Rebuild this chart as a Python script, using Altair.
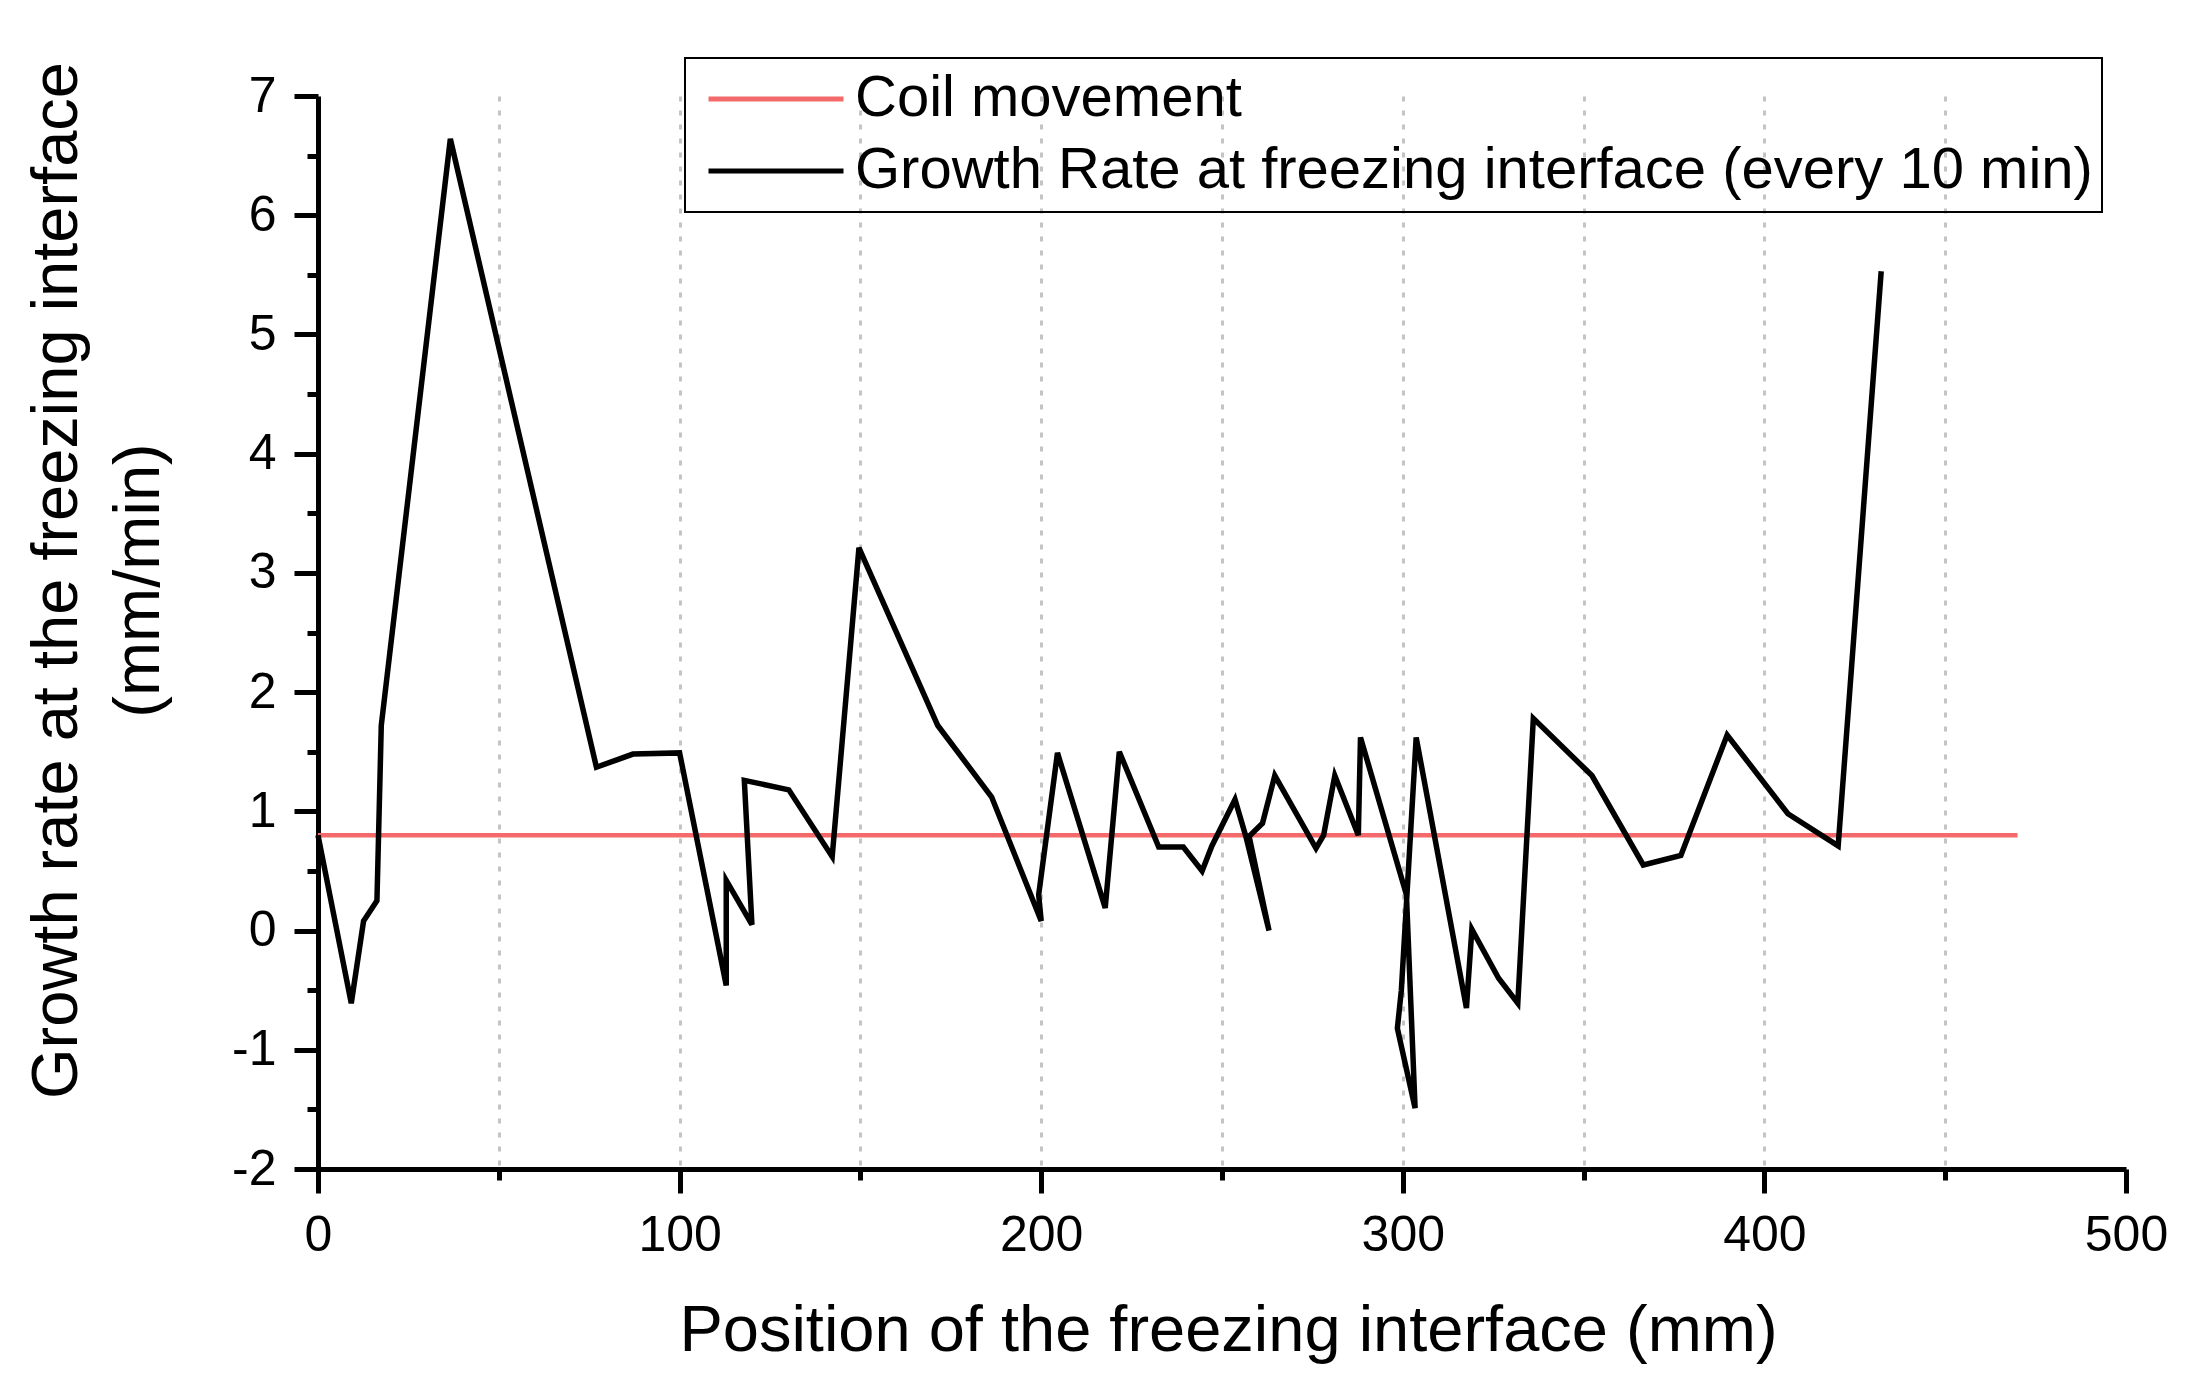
import altair as alt
import pandas as pd

# ---- data ----
pos_mm = [0, 9.2, 12.6, 16.3, 17.5, 36.6, 77, 87.1, 100, 112.9, 112.9, 120, 117.9, 130.2,
          142.2, 149.6, 171.4, 186.3, 200, 199.3, 204.5, 217.7, 221.6, 232.5, 239.3, 244.5,
          247.2, 253.6, 256.6, 263, 257.5, 261.2, 264.6, 276, 278.1, 281.2, 287.7, 288.3,
          301, 303.4, 298.5, 299.6, 303.7, 317.6, 319.1, 326.5, 331.8, 336.1, 352.3, 366.5,
          376.9, 389.7, 406.5, 420.4, 432.3]
rate = [0.8, -0.61, 0.08, 0.25, 1.72, 6.64, 1.37, 1.48, 1.49, -0.46, 0.42, 0.05, 1.26, 1.18,
        0.62, 3.21, 1.72, 1.12, 0.08, 0.3, 1.49, 0.19, 1.5, 0.7, 0.7, 0.5,
        0.71, 1.1, 0.79, 0.0, 0.79, 0.9, 1.3, 0.69, 0.8, 1.3, 0.8, 1.62,
        0.3, -1.49, -0.82, -0.5, 1.62, -0.65, 0.01, -0.4, -0.61, 1.78, 1.3, 0.55,
        0.63, 1.64, 0.98, 0.71, 5.53]
coil_x = [0, 470]
coil_y = [0.8, 0.8]

x_major = [0, 100, 200, 300, 400, 500]
x_minor = [50, 100, 150, 200, 250, 300, 350, 400, 450]
y_major = [-2, -1, 0, 1, 2, 3, 4, 5, 6, 7]
y_minor = [-1.5, -0.5, 0.5, 1.5, 2.5, 3.5, 4.5, 5.5, 6.5]

series_names = ["Coil movement", "Growth Rate at freezing interface (every 10 min)"]
series_colors = ["#f46a6a", "#000000"]

x_title = "Position of the freezing interface (mm)"
y_title = ["Growth rate at the freezing interface", "(mm/min)"]

FONT = "Liberation Sans"

growth = pd.DataFrame({"x": pos_mm, "y": rate, "idx": list(range(len(pos_mm))),
                       "s": series_names[1]})
coil = pd.DataFrame({"x": coil_x, "y": coil_y, "idx": [0, 1], "s": series_names[0]})

xscale = alt.Scale(domain=[0, 500], nice=False, zero=False)
yscale = alt.Scale(domain=[-2, 7], nice=False, zero=False)

legend = alt.Legend(
    title=None, orient="none", legendX=367, legendY=-38, direction="vertical",
    symbolType="stroke", symbolSize=18225, symbolStrokeWidth=5,
    labelFontSize=58, labelFont=FONT, labelColor="black", labelLimit=3000,
    clipHeight=64, rowPadding=8, padding=9, strokeColor="black",
    labelOffset=9, symbolOffset=12,
)
color = alt.Color("s:N", scale=alt.Scale(domain=series_names, range=series_colors),
                  legend=legend)

coil_layer = alt.Chart(coil).mark_line(strokeWidth=4.5).encode(
    x=alt.X("x:Q", scale=xscale,
            axis=alt.Axis(orient="bottom", values=x_minor, tickSize=11, labels=False,
                          domain=False, title=None, grid=True, gridDash=[5, 9],
                          gridColor="#c4c4c4", gridWidth=3)),
    y=alt.Y("y:Q", scale=yscale,
            axis=alt.Axis(orient="left", values=y_minor, tickSize=11, labels=False,
                          domain=False, title=None, grid=False)),
    color=color,
    order="idx:Q",
)

growth_layer = alt.Chart(growth).mark_line(strokeWidth=5.5, strokeJoin="miter").encode(
    x=alt.X("x:Q", scale=xscale,
            axis=alt.Axis(orient="bottom", values=x_major, tickSize=24, labelPadding=17,
                          labelFontSize=50, labelFlush=False, grid=False, title=x_title,
                          titleFontSize=65, titleX=910, titleY=181,
                          titleBaseline="alphabetic", titleAlign="center")),
    y=alt.Y("y:Q", scale=yscale,
            axis=alt.Axis(orient="left", values=y_major, tickSize=24, labelPadding=18,
                          labelFontSize=50, labelFlush=False, grid=False,
                          labelExpr="'' + datum.value",
                          title=y_title, titleFontSize=65, titleAngle=270,
                          titleX=-242, titleY=484, titleBaseline="alphabetic",
                          titleAlign="center", titleLineHeight=82)),
    color=color,
    order="idx:Q",
)

chart = alt.layer(coil_layer, growth_layer).resolve_axis(
    x="independent", y="independent"
).properties(
    width=1808, height=1073,
    autosize=alt.AutoSizeParams(type="none"),
    padding={"left": 310, "top": 88, "right": 53, "bottom": 215},
    background="white",
).configure_view(strokeWidth=0).configure_axis(
    labelFont=FONT, titleFont=FONT, labelColor="black", titleColor="black",
    domainColor="black", tickColor="black", domainWidth=5, tickWidth=5,
    titleFontWeight="normal",
).configure_legend(strokeWidth=2)

chart.save("out.html", embed_options={"renderer": "svg", "actions": False})
